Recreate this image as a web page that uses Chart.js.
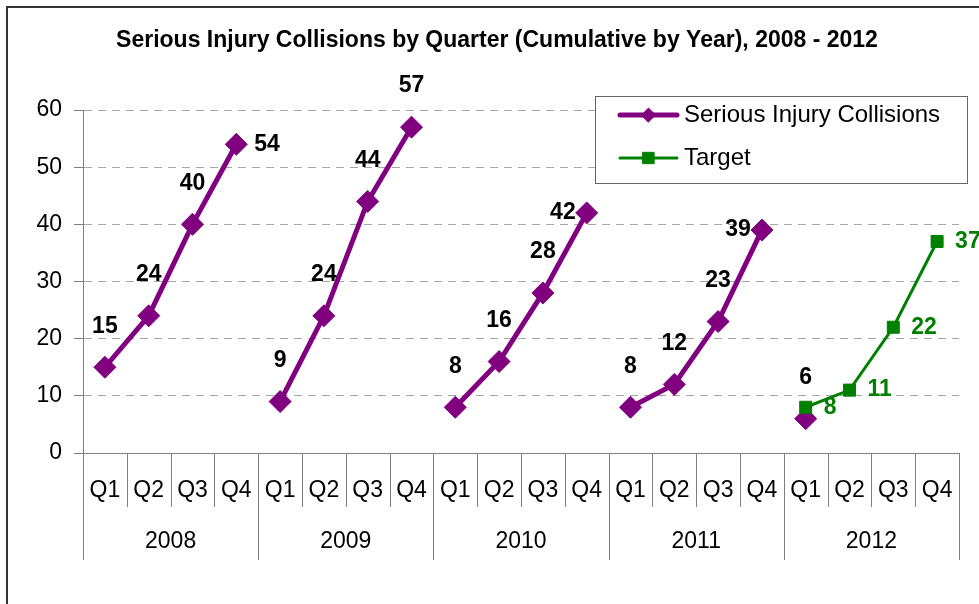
<!DOCTYPE html>
<html>
<head>
<meta charset="utf-8">
<script src="https://cdn.jsdelivr.net/npm/chart.js@4.4.1/dist/chart.umd.min.js"></script>
<style>
  body { margin: 0; background: #fff; }
  #wrap { width: 979px; height: 604px; }
</style>
</head>
<body>
<div id="wrap"><canvas id="chart" width="979" height="604"></canvas></div>
<script>
// data
const quarters = ["Q1", "Q2", "Q3", "Q4", "Q1", "Q2", "Q3", "Q4", "Q1", "Q2", "Q3", "Q4",
  "Q1", "Q2", "Q3", "Q4", "Q1", "Q2", "Q3", "Q4"];
const years = ["2008", "2009", "2010", "2011", "2012"];
const seriousCollisions = [15, 24, 40, 54, 9, 24, 44, 57, 8, 16, 28, 42, 8, 12, 23, 39, 6, null, null, null];
const target = [null, null, null, null, null, null, null, null, null, null, null, null,
  null, null, null, null, 8, 11, 22, 37];
const yTicks = [0, 10, 20, 30, 40, 50, 60];

// where each value label sits relative to its point
const seriousLabelSide = ["top", "top", "top", "right", "top", "top", "top", "top",
  "top", "top", "top", "left", "top", "top", "top", "left", "top"];
const targetLabelSide = ["right", "right", "right", "right"];

const PURPLE = "#800080";
const GREEN = "#008000";
const FONT = "'Liberation Sans', Arial, sans-serif";

// value labels next to the points
const valueLabels = {
  id: "valueLabels",
  afterDatasetsDraw(chart) {
    const ctx = chart.ctx;
    ctx.save();
    ctx.font = "bold 23px " + FONT;
    ctx.textBaseline = "middle";
    chart.data.datasets.forEach((ds, di) => {
      const meta = chart.getDatasetMeta(di);
      const sides = ds.label === "Target" ? targetLabelSide : seriousLabelSide;
      let n = 0;
      meta.data.forEach((pt, i) => {
        const v = ds.data[i];
        if (v === null) return;
        const side = sides[n++] || "top";
        ctx.fillStyle = ds.label === "Target" ? GREEN : "#000";
        if (side === "top") {
          ctx.textAlign = "center";
          ctx.fillText(v, pt.x, pt.y - 41);
        } else if (side === "right") {
          ctx.textAlign = "left";
          ctx.fillText(v, pt.x + 18, pt.y);
        } else {
          ctx.textAlign = "right";
          ctx.fillText(v, pt.x - 11, pt.y);
        }
      });
    });
    ctx.restore();
  }
};

// quarter / year separators, year labels, legend box and outer frame
const decorations = {
  id: "decorations",
  afterDraw(chart) {
    const ctx = chart.ctx;
    const x = chart.scales.x;
    const bottom = chart.chartArea.bottom;
    ctx.save();
    ctx.strokeStyle = "#7f7f7f";
    ctx.lineWidth = 1;
    for (let i = 0; i <= quarters.length; i++) {
      const px = Math.round(x.getPixelForValue(i - 0.5)) + 0.5;
      ctx.beginPath();
      ctx.moveTo(px, bottom);
      ctx.lineTo(px, i % 4 === 0 ? bottom + 107 : bottom + 54);
      ctx.stroke();
    }
    ctx.fillStyle = "#000";
    ctx.font = "23px " + FONT;
    ctx.textAlign = "center";
    ctx.textBaseline = "middle";
    years.forEach((y, k) => {
      ctx.fillText(y, x.getPixelForValue(k * 4 + 1.5), bottom + 89);
    });

    // legend
    const lx = 595, ly = 96, lw = 372, lh = 87;
    ctx.fillStyle = "#fff";
    ctx.fillRect(lx, ly, lw, lh);
    ctx.strokeStyle = "#666";
    ctx.strokeRect(lx + 0.5, ly + 0.5, lw, lh);
    const items = [
      { ds: chart.data.datasets[0], y: 115, r: 7 },
      { ds: chart.data.datasets[1], y: 158, r: 8 }
    ];
    items.forEach(it => {
      ctx.strokeStyle = it.ds.borderColor;
      ctx.lineWidth = it.ds.borderWidth;
      ctx.lineCap = "round";
      ctx.beginPath();
      ctx.moveTo(620, it.y);
      ctx.lineTo(677, it.y);
      ctx.stroke();
      ctx.fillStyle = it.ds.backgroundColor;
      ctx.strokeStyle = it.ds.borderColor;
      ctx.lineWidth = 1;
      Chart.helpers.drawPoint(ctx, { pointStyle: it.ds.pointStyle, radius: it.r, borderWidth: 1 }, 648.5, it.y);
      ctx.fillStyle = "#000";
      ctx.font = "24px " + FONT;
      ctx.textAlign = "left";
      ctx.fillText(it.ds.label, 684, it.y);
    });

    // outer frame (picture is cut off right and bottom)
    ctx.strokeStyle = "#333";
    ctx.lineWidth = 2;
    ctx.beginPath();
    ctx.moveTo(7, 604);
    ctx.lineTo(7, 7);
    ctx.lineTo(979, 7);
    ctx.stroke();
    ctx.restore();
  }
};

new Chart(document.getElementById("chart"), {
  type: "line",
  data: {
    labels: quarters,
    datasets: [
      {
        label: "Serious Injury Collisions",
        data: seriousCollisions,
        borderColor: PURPLE,
        backgroundColor: PURPLE,
        borderWidth: 5,
        pointStyle: "rectRot",
        pointRadius: 11,
        pointBorderWidth: 1,
        tension: 0,
        order: 1,
        segment: {
          // no line from Q4 of one year to Q1 of the next
          borderColor: c => (c.p0DataIndex % 4 === 3 ? "rgba(0,0,0,0)" : undefined)
        }
      },
      {
        label: "Target",
        data: target,
        borderColor: GREEN,
        backgroundColor: GREEN,
        borderWidth: 3,
        pointStyle: "rect",
        pointRadius: 8.5,
        pointBorderWidth: 1,
        tension: 0,
        order: 0
      }
    ]
  },
  options: {
    responsive: false,
    devicePixelRatio: 1,
    animation: false,
    events: [],
    layout: { padding: { left: 35, right: 20, top: 0, bottom: 0 } },
    plugins: {
      legend: { display: false },
      tooltip: { enabled: false },
      title: {
        display: true,
        text: "Serious Injury Collisions by Quarter (Cumulative by Year), 2008 - 2012",
        color: "#000",
        font: { family: FONT, size: 23, weight: "bold", lineHeight: 1.2 },
        padding: { top: 27, bottom: 55.4 }
      }
    },
    scales: {
      x: {
        offset: true,
        grid: { display: false, drawTicks: false },
        border: { display: true, color: "#7f7f7f", width: 1 },
        ticks: { color: "#000", font: { family: FONT, size: 23 }, padding: 24, maxRotation: 0, autoSkip: false },
        afterFit: s => { s.height = 151; }
      },
      y: {
        min: 0,
        max: 60,
        afterBuildTicks: s => { s.ticks = yTicks.map(v => ({ value: v })); },
        grid: { color: "#a6a6a6", lineWidth: 1, tickLength: 9, tickColor: "#7f7f7f" },
        border: { display: true, color: "#7f7f7f", width: 1, dash: [8, 6] },
        ticks: { color: "#000", font: { family: FONT, size: 23 }, padding: 12 },
        afterFit: s => { s.width = 48; }
      }
    }
  },
  plugins: [valueLabels, decorations]
});
</script>
</body>
</html>
